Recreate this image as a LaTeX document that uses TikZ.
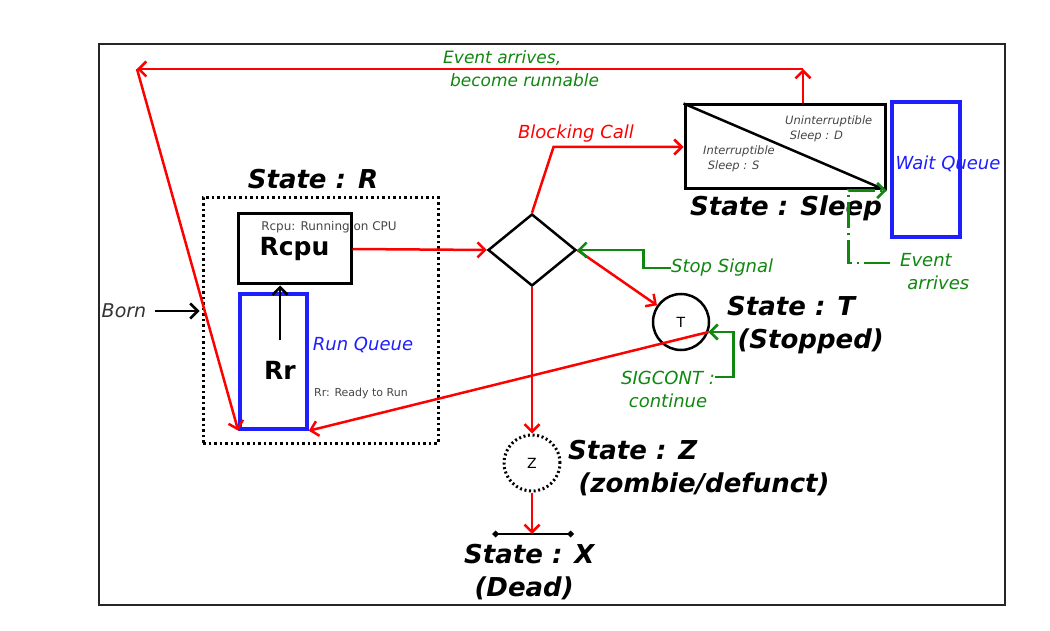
\documentclass[tikz,border=0pt]{standalone}
\usepackage{fontspec}
\setmainfont{DejaVu Sans}
\usetikzlibrary{arrows.meta,shapes.geometric}

\definecolor{flowred}{RGB}{255,0,0}
\definecolor{siggreen}{RGB}{16,136,16}
\definecolor{qblue}{RGB}{30,30,255}
\definecolor{notegray}{RGB}{70,70,70}

\newcommand{\ind}{\hspace*{.4em}}

\begin{document}
\begin{tikzpicture}[
    x=1pt,y=-1pt,
    tip/.style={-{Straight Barb[length=7.5pt,width=15pt]}},
    flow/.style={tip,flowred,line width=2.5pt},
    sig/.style={tip,siggreen,line width=2.5pt},
    box/.style={draw,line width=3pt,inner sep=0pt},
    queue/.style={draw=qblue,line width=3.5pt,inner sep=0pt},
    dots/.style={line width=3pt,dash pattern=on 2.5pt off 3pt},
    statelbl/.style={font=\fontsize{26}{33}\selectfont\bfseries\itshape,align=left,inner sep=0pt},
    note/.style={font=\fontsize{18}{23}\selectfont\itshape,align=left,inner sep=0pt},
    small/.style={font=\fontsize{12}{15}\selectfont,text=notegray,inner sep=0pt},
    snote/.style={font=\fontsize{11.5}{15}\selectfont\itshape,text=notegray,align=left,inner sep=0pt,anchor=west}
]

% page and frame
\useasboundingbox (0,0) rectangle (1050,631);
\fill[white] (0,0) rectangle (1050,631);
\draw[line width=2.5pt,black!85] (99,44) rectangle (1005,605);

% state R
\node[draw,dots,minimum width=235,minimum height=245] (stateR) at (320.5,320.5) {};
\node[statelbl] (rlbl) at (313,179) {State : R};
\node[box,minimum width=113,minimum height=70,font=\fontsize{25}{30}\selectfont\bfseries] (rcpu) at (294.5,249) {Rcpu};
\node[small] (rcpunote) at (329,227) {Rcpu: Running on CPU};
\node[queue,minimum width=67,minimum height=135] (rr) at (273.5,361.5) {};
\node[font=\fontsize{25}{30}\selectfont\bfseries] (rrtxt) at (280,370) {Rr};
\node[note,text=qblue] (rqlbl) at (363,345) {Run Queue};
\node[small,font=\fontsize{11}{13}\selectfont] (rrnote) at (361,393) {Rr: Ready to Run};
\draw[tip,line width=2.5pt,shorten <=17pt] (rrtxt.north) -- (rrtxt.north |- rcpu.south);

% born
\node[note,font=\fontsize{19}{23}\selectfont\itshape,text=black!80] (born) at (124,311) {Born};
\draw[tip,line width=2.5pt,shorten <=9pt,shorten >=2pt] (born.east) -- (stateR.west |- born.east);

% decision
\node[draw,diamond,aspect=1.22,line width=2.5pt,minimum width=88,minimum height=72,inner sep=0pt] (dec) at (532,250) {};

% sleep
\node[box,minimum width=200,minimum height=84] (sleep) at (785,147) {};
\draw[line width=2.5pt] (sleep.north west) -- (sleep.south east);
\node[snote] (dnote) at (785,128.5) {Uninterruptible\\\ind Sleep : D};
\node[snote] (snote) at (703,158.5) {Interruptible\\\ind Sleep : S};
\node[statelbl] (sleeplbl) at (786,208) {State : Sleep};
\node[queue,minimum width=68,minimum height=135] (wq) at (926,169.5) {};
\node[note,text=qblue] (wqlbl) at (948,164) {Wait Queue};

% stopped, zombie, dead
\node[draw,circle,line width=2.5pt,minimum size=56,inner sep=0pt,font=\fontsize{14}{16}\selectfont] (stopT) at (681,322) {T};
\node[statelbl,anchor=west] (tlbl) at (727,325) {State : T\\\ind(Stopped)};
\node[draw,circle,line width=3pt,dash pattern=on 2pt off 2.6pt,minimum size=56,inner sep=0pt,font=\fontsize{14}{16}\selectfont] (zomb) at (532,463) {Z};
\node[statelbl,anchor=west] (zlbl) at (568,468) {State : Z\\\ind(zombie/defunct)};
\coordinate (xbar) at (532,534);
\draw[{Diamond[length=7pt,width=7pt]}-{Diamond[length=7pt,width=7pt]},line width=2.5pt] ([xshift=-40pt]xbar) -- ([xshift=42pt]xbar);
\node[statelbl,anchor=west] (xlbl) at (464,572) {State : X\\\ind(Dead)};

% red transitions
\draw[flow] (rcpu.east) -- (dec.west);
\draw[flow] (dec.north) -- ([xshift=-130pt]sleep.west) -- (sleep.west);
\node[note,text=flowred] (bclbl) at (576,134) {Blocking Call};
\draw[flow] (dec.east) -- (stopT);
\draw[flow] (dec.south) -- (zomb.north);
\draw[flow] (zomb.south) -- (xbar);
\draw[flow] (stopT.-20) -- (rr.south east);

% wake up path
\coordinate (topR) at (803,69);
\coordinate (topL) at (137,69);
\draw[flow] (sleep.north -| topR) -- (topR);
\draw[flow] (topR) -- (topL);
\draw[flow] (topL) -- (rr.south west);
\node[note,text=siggreen,font=\fontsize{17}{23}\selectfont\itshape,anchor=west] (evtop) at (443,68.5) {Event arrives,\\\ind become runnable};

% green signals
\node[note,text=siggreen,anchor=west] (stoplbl) at (671,268) {Stop Signal};
\draw[sig] (stoplbl.west) -| ([xshift=66pt]dec.east) -- (dec.east);
\node[note,text=siggreen,align=center] (sigc) at (668,389) {SIGCONT :\\continue};
\draw[sig] ([yshift=12pt]sigc.east) -| ([xshift=25pt]stopT.-20) -- (stopT.-20);
\node[note,text=siggreen,anchor=west] (evlbl) at (900,272) {Event\\\ind arrives};
\draw[sig,dash pattern=on 26pt off 5pt on 2pt off 5pt] ([shift={(-10pt,9pt)}]evlbl.west) -| ([xshift=-38pt]sleep.south east) -- (sleep.south east);

\end{tikzpicture}
\end{document}
